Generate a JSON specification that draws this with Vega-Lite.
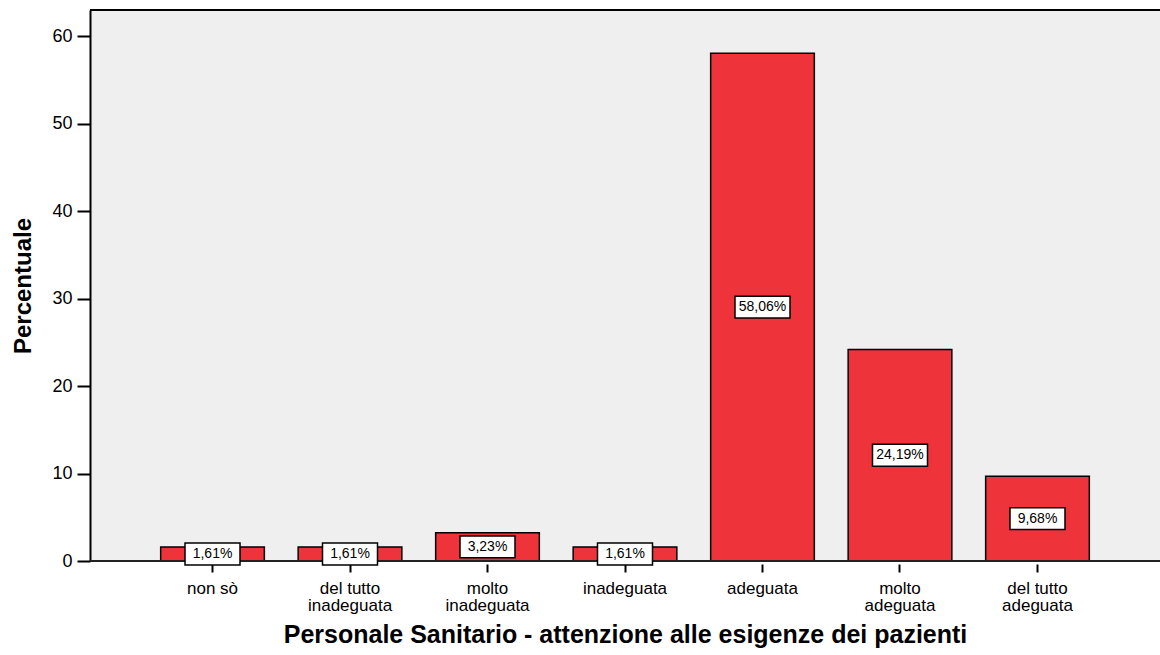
{
  "$schema": "https://vega.github.io/schema/vega-lite/v6.json",
  "width": 1070,
  "height": 551,
  "autosize": {"type": "none"},
  "padding": {"left": 90, "top": 10, "right": 0, "bottom": 94},
  "background": "white",
  "config": {
    "view": {"fill": "#EFEFEF", "stroke": null},
    "font": "Liberation Sans"
  },
  "data": {
    "values": [
      {"categoria": "non sò", "percent": 1.61},
      {"categoria": "del tutto inadeguata", "percent": 1.61},
      {"categoria": "molto inadeguata", "percent": 3.23},
      {"categoria": "inadeguata", "percent": 1.61},
      {"categoria": "adeguata", "percent": 58.06},
      {"categoria": "molto adeguata", "percent": 24.19},
      {"categoria": "del tutto adeguata", "percent": 9.68}
    ]
  },
  "transform": [
    {"calculate": "datum.percent / 2", "as": "mid"},
    {"calculate": "datum.percent / 2 - 1.25", "as": "lo"},
    {"calculate": "datum.percent / 2 + 1.25", "as": "hi"},
    {"calculate": "replace(format(datum.percent, '.2f'), '.', ',') + '%'", "as": "etichetta"}
  ],
  "layer": [
    {
      "mark": {"type": "bar", "fill": "#EF333A", "stroke": "black", "strokeWidth": 1.5},
      "encoding": {
        "x": {
          "field": "categoria",
          "type": "nominal",
          "sort": null,
          "scale": {"paddingInner": 0.246, "paddingOuter": 0.514},
          "axis": {
            "title": "Personale Sanitario - attenzione alle esigenze dei pazienti",
            "titleFont": "Liberation Sans",
            "titleFontSize": 25,
            "titleFontWeight": "bold",
            "titleColor": "black",
            "titlePadding": 9,
            "labelAngle": 0,
            "labelFont": "Liberation Sans",
            "labelFontSize": 17,
            "labelColor": "black",
            "labelLineHeight": 17,
            "labelPadding": 8,
            "labelExpr": "datum.label == 'non sò' || indexof(datum.label, ' ') < 0 ? datum.label : [substring(datum.label, 0, lastindexof(datum.label, ' ')), substring(datum.label, lastindexof(datum.label, ' ') + 1)]",
            "domain": false,
            "offset": 3,
            "ticks": true,
            "tickSize": 8,
            "tickWidth": 2,
            "tickColor": "black",
            "grid": false
          }
        },
        "y": {
          "field": "percent",
          "type": "quantitative",
          "scale": {"domain": [0, 63], "nice": false},
          "axis": {
            "title": "Percentuale",
            "titleFont": "Liberation Sans",
            "titleFontSize": 24,
            "titleFontWeight": "bold",
            "titleColor": "black",
            "titlePadding": 16,
            "values": [0, 10, 20, 30, 40, 50, 60],
            "labelFont": "Liberation Sans",
            "labelFontSize": 18,
            "labelColor": "black",
            "labelPadding": 5,
            "tickSize": 13,
            "tickWidth": 2,
            "tickColor": "black",
            "domainColor": "black",
            "domainWidth": 2,
            "grid": false
          }
        }
      }
    },
    {
      "mark": {"type": "rule", "color": "black", "strokeWidth": 2},
      "encoding": {"y": {"datum": 63}}
    },
    {
      "mark": {"type": "rule", "color": "#222222", "strokeWidth": 2},
      "encoding": {"y": {"datum": 0}}
    },
    {
      "mark": {"type": "bar", "width": 55, "fill": "white", "stroke": "black", "strokeWidth": 1.5},
      "encoding": {
        "x": {"field": "categoria", "type": "nominal", "sort": null},
        "y": {"field": "lo", "type": "quantitative"},
        "y2": {"field": "hi"}
      }
    },
    {
      "mark": {"type": "text", "font": "Liberation Sans", "fontSize": 14, "color": "black", "baseline": "middle", "align": "center"},
      "encoding": {
        "x": {"field": "categoria", "type": "nominal", "sort": null},
        "y": {"field": "mid", "type": "quantitative"},
        "text": {"field": "etichetta", "type": "nominal"}
      }
    }
  ]
}
